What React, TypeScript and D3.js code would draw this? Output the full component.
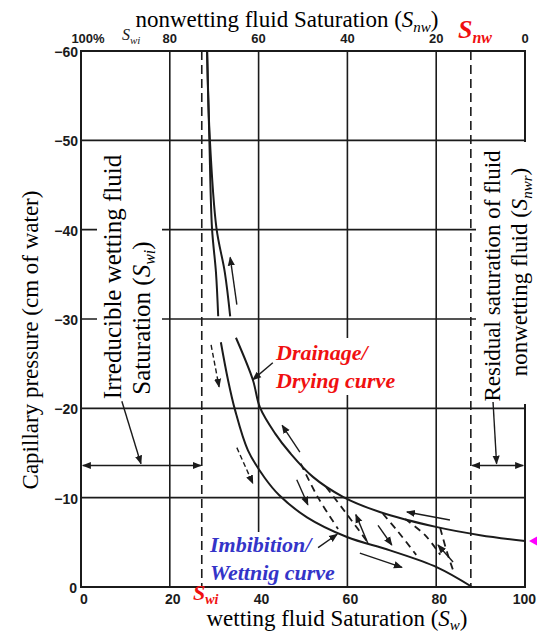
import React from "react";
import * as d3 from "d3";

// Axis ticks
const SW_TICKS = [0, 20, 40, 60, 80, 100];
const SNW_TICK_LABELS = ["100%", "80", "60", "40", "20", "0"];
const PC_TICKS = [-60, -50, -40, -30, -20, -10, 0];
const PC_GRID = [-50, -40, -30, -20, -10];
const SW_GRID = [20, 40, 60, 80];

// Characteristic saturations (wetting saturation, %)
const S_WI = 27.2;
const S_NWR_AT_SW = 87.8;

// Drainage (drying) branch: [Sw %, Pc cm]
const drainageUpper: [number, number][] = [
  [28.4, -60], [29.0, -50.3], [30.5, -40.2], [32.4, -35.2], [33.6, -30.3],
];
const drainageLower: [number, number][] = [
  [34.9, -27.9], [38.7, -23.2], [40.3, -20.1], [43.7, -17.2], [47.1, -15.0],
  [52.3, -12.3], [59.0, -10.1], [67.3, -8.4], [80.2, -6.7], [89.9, -5.8], [100, -5.15],
];

// Imbibition (wetting) branch
const imbibitionUpper: [number, number][] = [
  [28.4, -60], [28.9, -50.3], [29.5, -40.2], [30.4, -35.2], [30.9, -30.3],
];
const imbibitionLower: [number, number][] = [
  [31.5, -27.4], [33.1, -23.2], [34.7, -19.8], [37.6, -15.3], [41.4, -12.2],
  [44.6, -10.3], [50.9, -7.8], [59.9, -5.6], [69.6, -4.1], [80.2, -2.2], [88.1, 0],
];

// Scanning curves between the two branches
const scanCurves: [number, number][][] = [
  [[49.5, -13.8], [53.4, -10.0], [57.9, -6.5]],
  [[55.2, -11.2], [59.5, -8.4], [64.6, -5.0]],
  [[68.0, -8.2], [71.4, -6.2], [75.5, -3.6]],
  [[73.0, -7.6], [77.5, -5.8], [80.9, -3.6]],
  [[80.9, -6.6], [82.5, -3.8], [84.0, -1.6]],
];

// Direction arrows: from -> to (head at "to")
const flowArrows: { from: [number, number]; to: [number, number]; dashed?: boolean }[] = [
  { from: [35.1, -31.6], to: [33.6, -36.9] },
  { from: [29.3, -27.1], to: [31.1, -22.4], dashed: true },
  { from: [49.3, -15.1], to: [45.3, -18.1] },
  { from: [35.1, -15.6], to: [38.7, -11.6], dashed: true },
  { from: [83.1, -7.5], to: [73.4, -8.4] },
  { from: [62.8, -3.8], to: [72.3, -2.2] },
  { from: [48.6, -12.0], to: [51.1, -9.2] },
  { from: [64.6, -4.9], to: [61.9, -8.1] },
  { from: [66.9, -6.9], to: [70.0, -4.7] },
  { from: [83.8, -2.8], to: [80.4, -4.7] },
];

// Label pointers
const pointers: { from: [number, number]; to: [number, number] }[] = [
  { from: [43.2, -25.1], to: [38.7, -23.2] },
  { from: [53.4, -4.4], to: [57.7, -5.9] },
  { from: [9.2, -20.8], to: [13.5, -13.8] },
  { from: [92.8, -20.7], to: [93.6, -13.8] },
];

// Saturation-range spans (double arrows)
const spans: { x1: number; x2: number; y: number }[] = [
  { x1: 0.4, x2: 27.0, y: -13.6 },
  { x1: 88.1, x2: 99.6, y: -13.6 },
];

const W = 537;
const H = 635;
const INK = "#1b1b1b";
const RED = "#f01010";
const BLUE = "#3434c8";
const SERIF = "'Liberation Serif', 'Times New Roman', serif";
const SANS = "'Liberation Sans', Arial, sans-serif";

export default function App() {
  const x = d3.scaleLinear().domain([0, 100]).range([81, 525]);
  const y = d3.scaleLinear().domain([-60, 0]).range([51, 587]);

  const line = d3
    .line<[number, number]>()
    .x((d) => x(d[0]))
    .y((d) => y(d[1]))
    .curve(d3.curveCatmullRom.alpha(0.5));

  const seg = (a: [number, number], b: [number, number]) =>
    `M${x(a[0])},${y(a[1])}L${x(b[0])},${y(b[1])}`;

  return (
    <svg
      width={W}
      height={H}
      viewBox={`0 0 ${W} ${H}`}
      style={{ position: "absolute", left: 0, top: 0, background: "#fff" }}
    >
      <defs>
        <marker id="head" viewBox="0 0 10 10" refX="9" refY="5" markerWidth="9" markerHeight="9"
          markerUnits="userSpaceOnUse" orient="auto-start-reverse">
          <path d="M0,1 L10,5 L0,9 Z" fill={INK} />
        </marker>
      </defs>

      {/* grid */}
      <g stroke={INK} strokeWidth={1.6}>
        {PC_GRID.map((v) => (
          <line key={"h" + v} x1={x(0)} x2={x(100)} y1={y(v)} y2={y(v)} />
        ))}
        {SW_GRID.map((v) => (
          <line key={"v" + v} x1={x(v)} x2={x(v)} y1={y(-60)} y2={y(0)} />
        ))}
        <rect x={x(0)} y={y(-60)} width={x(100) - x(0)} height={y(0) - y(-60)} fill="none" strokeWidth={2} />
      </g>

      {/* characteristic saturations */}
      <g stroke={INK} strokeWidth={1.6} strokeDasharray="9 5">
        <line x1={x(S_WI)} x2={x(S_WI)} y1={y(-60)} y2={y(0)} />
        <line x1={x(S_NWR_AT_SW)} x2={x(S_NWR_AT_SW)} y1={y(-60)} y2={y(0)} />
      </g>

      {/* label backgrounds */}
      <g fill="#fff">
        <rect x={97} y={150} width={65} height={252} />
        <rect x={476} y={142} width={56} height={262} />
        <rect x={274} y={338} width={130} height={57} />
        <rect x={207} y={532} width={136} height={54} />
      </g>

      {/* main branches */}
      <g fill="none" stroke={INK} strokeWidth={2}>
        <path d={line(drainageUpper) ?? ""} />
        <path d={line(drainageLower) ?? ""} />
        <path d={line(imbibitionUpper) ?? ""} />
        <path d={line(imbibitionLower) ?? ""} />
      </g>

      {/* scanning curves */}
      <g fill="none" stroke={INK} strokeWidth={1.8} strokeDasharray="7 5">
        {scanCurves.map((c, i) => (
          <path key={i} d={line(c) ?? ""} />
        ))}
      </g>

      {/* direction arrows */}
      <g fill="none" stroke={INK} strokeWidth={1.4}>
        {flowArrows.map((a, i) => (
          <path key={i} d={seg(a.from, a.to)} markerEnd="url(#head)"
            strokeDasharray={a.dashed ? "5 3" : undefined} />
        ))}
        {pointers.map((a, i) => (
          <path key={"p" + i} d={seg(a.from, a.to)} markerEnd="url(#head)" />
        ))}
        {spans.map((s, i) => (
          <path key={"s" + i} d={seg([s.x1, s.y], [s.x2, s.y])}
            markerStart="url(#head)" markerEnd="url(#head)" />
        ))}
      </g>

      {/* end marker of drainage branch */}
      <path
        d={`M${x(100) + 4},${y(-5.15)} l8,-4.5 l0,9 Z`}
        fill="#ff00ff"
      />

      {/* left axis ticks */}
      <g fontFamily={SANS} fontWeight="bold" fontSize={14} fill={INK} textAnchor="end">
        {PC_TICKS.map((v) => (
          <text key={v} x={v === 0 ? 77 : 78} y={y(v) + 6}>
            {v === 0 ? "0" : "\u2212" + Math.abs(v)}
          </text>
        ))}
      </g>

      {/* bottom axis ticks */}
      <g fontFamily={SANS} fontWeight="bold" fontSize={14} fill={INK}>
        {SW_TICKS.map((v) => (
          <text key={v} x={v === 100 ? W - 1 : x(v) + 3} y={604}
            textAnchor={v === 100 ? "end" : "middle"}>
            {v}
          </text>
        ))}
      </g>

      {/* top axis ticks */}
      <g fontFamily={SANS} fontWeight="bold" fontSize={13} fill={INK} textAnchor="middle">
        {SW_TICKS.map((v, i) => (
          <text key={v} x={i === 0 ? x(v) + 7 : x(v)} y={43}>
            {SNW_TICK_LABELS[i]}
          </text>
        ))}
      </g>
      <text x={122} y={40} fontFamily={SERIF} fontStyle="italic" fontSize={16} fill={INK}>
        S<tspan dy={4} fontSize={11}>wi</tspan>
      </text>

      {/* titles */}
      <text x={287} y={27} fontFamily={SERIF} fontSize={23} fill="#000" textAnchor="middle">
        nonwetting fluid Saturation (<tspan fontStyle="italic">S</tspan>
        <tspan fontStyle="italic" fontSize={15} dy={5}>nw</tspan>
        <tspan dy={-5}>)</tspan>
      </text>
      <text x={337} y={626} fontFamily={SERIF} fontSize={23} fill="#000" textAnchor="middle">
        wetting fluid Saturation (<tspan fontStyle="italic">S</tspan>
        <tspan fontStyle="italic" fontSize={15} dy={4}>w</tspan>
        <tspan dy={-4}>)</tspan>
      </text>
      <text transform="translate(38,340) rotate(-90)" fontFamily={SERIF} fontSize={23}
        fill="#000" textAnchor="middle">
        Capillary pressure (cm of water)
      </text>

      {/* red saturation symbols */}
      <text x={458} y={38} fontFamily={SERIF} fontWeight="bold" fontStyle="italic" fontSize={26} fill={RED}>
        S<tspan fontSize={16} dy={5}>nw</tspan>
      </text>
      <text x={193} y={600} fontFamily={SERIF} fontWeight="bold" fontStyle="italic" fontSize={22} fill={RED}>
        S<tspan fontSize={14} dy={4}>wi</tspan>
      </text>

      {/* side annotations */}
      <g fontFamily={SERIF} fontSize={25} fill="#000" textAnchor="middle">
        <text transform="translate(121,277) rotate(-90)">Irreducible wetting fluid</text>
        <text transform="translate(150,318) rotate(-90)">
          Saturation (<tspan fontStyle="italic">S</tspan>
          <tspan fontStyle="italic" fontSize={16} dy={5}>wi</tspan>
          <tspan dy={-5}>)</tspan>
        </text>
      </g>
      <g fontFamily={SERIF} fontSize={23} fill="#000" textAnchor="middle">
        <text transform="translate(500,276) rotate(-90)">Residual saturation of fluid</text>
        <text transform="translate(527,272) rotate(-90)">
          nonwetting fluid  (<tspan fontStyle="italic">S</tspan>
          <tspan fontStyle="italic" fontSize={15} dy={5}>nwr</tspan>
          <tspan dy={-5}>)</tspan>
        </text>
      </g>

      {/* curve names */}
      <g fontFamily={SERIF} fontWeight="bold" fontStyle="italic" fontSize={22}>
        <text x={276} y={360} fill={RED}>Drainage/</text>
        <text x={276} y={388} fill={RED}>Drying curve</text>
        <text x={210} y={552} fill={BLUE}>Imbibition/</text>
        <text x={210} y={580} fill={BLUE}>Wettnig curve</text>
      </g>
    </svg>
  );
}
